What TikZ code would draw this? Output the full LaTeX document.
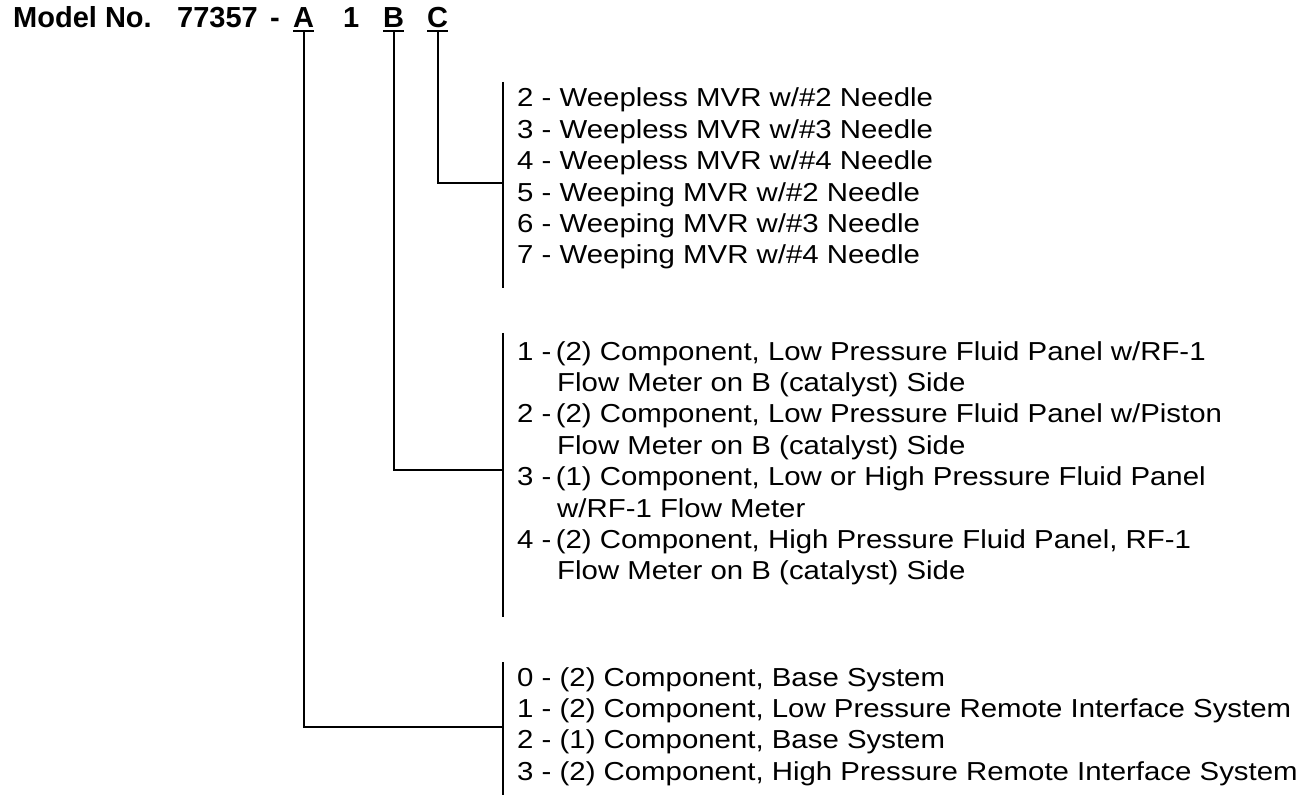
\documentclass[tikz,border=0pt]{standalone}
\usepackage{fontspec}
\setmainfont{Liberation Sans}
\newfontfamily\listfont{Liberation Sans}[FakeStretch=1.13]
\usetikzlibrary{positioning}

\begin{document}
\begin{tikzpicture}[x=1pt, y=-1pt,
  head/.style={font=\fontsize{29}{30}\selectfont\bfseries, anchor=base west, inner xsep=0pt, inner ysep=2.5pt},
  choice/.style={font=\fontsize{26}{30}\listfont, anchor=base west, inner sep=0pt},
  link/.style={line width=2pt},
  bar/.style={line width=2.2pt}]
  \useasboundingbox (0,0) rectangle (1314,799);

  % model number
  \node[head] (model) at (13,28)  {Model No.};
  \node[head] (num)   at (177,28) {77357};
  \node[head] (dash)  at (270,28) {-};
  \node[head] (selA)  at (293,28) {A};
  \node[head] (one)   at (343,28) {1};
  \node[head] (selB)  at (383,28) {B};
  \node[head] (selC)  at (427,28) {C};
  \foreach \s in {selA,selB,selC}
    \draw[link] (\s.south west) -- (\s.south east);

  % C choices
  \foreach \txt [count=\i from 0] in {
      2 - Weepless MVR w/\#2 Needle,
      3 - Weepless MVR w/\#3 Needle,
      4 - Weepless MVR w/\#4 Needle,
      5 - Weeping MVR w/\#2 Needle,
      6 - Weeping MVR w/\#3 Needle,
      7 - Weeping MVR w/\#4 Needle}
    \node[choice] (optC\i) at (517,107+31.4*\i) {\txt};

  % B choices
  \foreach \txt [count=\i from 0] in {
      {1 -\,(2) Component, Low Pressure Fluid Panel w/RF-1},
      {\hspace*{40pt}Flow Meter on B (catalyst) Side},
      {2 -\,(2) Component, Low Pressure Fluid Panel w/Piston},
      {\hspace*{40pt}Flow Meter on B (catalyst) Side},
      {3 -\,(1) Component, Low or High Pressure Fluid Panel},
      {\hspace*{40pt}w/RF-1 Flow Meter},
      {4 -\,(2) Component, High Pressure Fluid Panel, RF-1},
      {\hspace*{40pt}Flow Meter on B (catalyst) Side}}
    \node[choice] (optB\i) at (517,360+31.4*\i) {\txt};

  % A choices
  \foreach \txt [count=\i from 0] in {
      {0 - (2) Component, Base System},
      {1 - (2) Component, Low Pressure Remote Interface System},
      {2 - (1) Component, Base System},
      {3 - (2) Component, High Pressure Remote Interface System}}
    \node[choice] (optA\i) at (517,686+31.4*\i) {\txt};

  % brackets
  \coordinate (topC)  at (503,82);
  \coordinate (botC)  at (503,288);
  \coordinate (joinC) at (503,183);
  \coordinate (topB)  at (503,333);
  \coordinate (botB)  at (503,617);
  \coordinate (joinB) at (503,470);
  \coordinate (topA)  at (503,662);
  \coordinate (botA)  at (503,795);
  \coordinate (joinA) at (503,727);

  \draw[bar] (topC) -- (botC);
  \draw[bar] (topB) -- (botB);
  \draw[bar] (topA) -- (botA);

  \draw[link] (selC.south) |- (joinC);
  \draw[link] (selB.south) |- (joinB);
  \draw[link] (selA.south) |- (joinA);
\end{tikzpicture}
\end{document}
